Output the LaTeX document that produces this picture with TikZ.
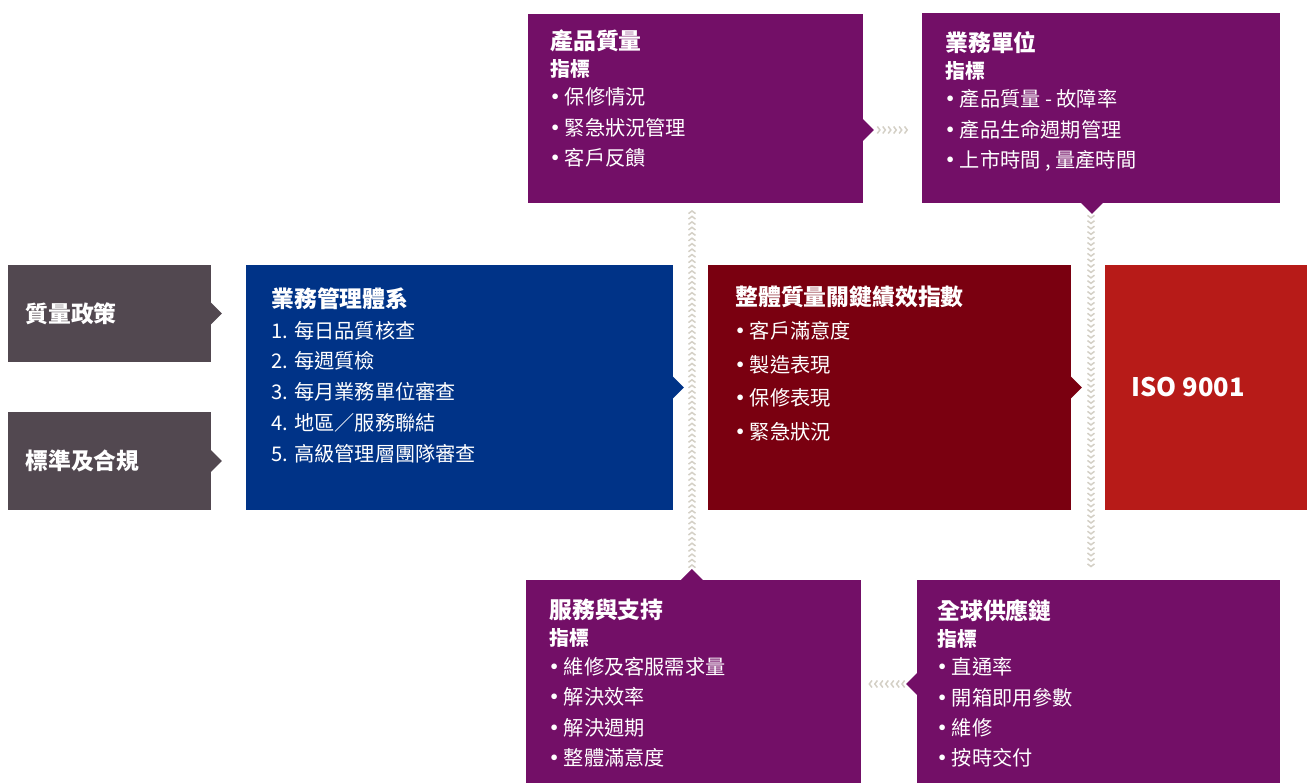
\documentclass[tikz,border=0pt]{standalone}
\usepackage{fontspec}
\newfontfamily\cjk{Noto Sans CJK TC}
\usepackage{tikz}
\usetikzlibrary{
  positioning, % for relative node positioning
  calc, % for position calculations
  decorations.markings, % for the chevron connectors
}
\definecolor{qm-grey}{RGB}{82, 72, 80}
\definecolor{qm-blue}{RGB}{0, 51, 135}
\definecolor{qm-darkred}{RGB}{122, 0, 16}
\definecolor{qm-red}{RGB}{183, 27, 24}
\definecolor{qm-purple}{RGB}{115, 15, 103}
\definecolor{qm-chevron}{RGB}{212, 208, 198}
\newcommand{\boxtitle}[1]{{\fontsize{13}{17}\selectfont\bfseries #1}}
\newcommand{\boxsub}[1]{{\fontsize{11.3}{17}\selectfont\bfseries #1}}
\newcommand{\bul}{\makebox[0.5em]{\bfseries •}\hspace{0.22em}}

\begin{document}
\begin{tikzpicture}[x=0.02cm, y=-0.02cm,
    font=\cjk\fontsize{11.5}{17.3}\selectfont,
    box/.style={anchor=north west, inner sep=0pt, outer sep=0pt},
    boxtext/.style={anchor=north west, align=left, text=white, inner sep=0pt},
    chevrons/.style={%
      decoration={markings,
        mark=between positions 0 and 1 step 3.1pt with
        {\draw[qm-chevron, line width=0.85pt] (-1.5pt,2pt) -- (0,0) -- (-1.5pt,-2pt);}},
      postaction={decorate}},
    ]
    \useasboundingbox (0,0) rectangle (1307,783);

    % boxes
    \node[box, fill=qm-grey, minimum width=4.06cm, minimum height=1.94cm] (qpol) at (8,265) {};
    \node[box, fill=qm-grey, minimum width=4.06cm, minimum height=1.96cm] (std) at (8,412) {};
    \node[box, fill=qm-blue, minimum width=8.54cm, minimum height=4.9cm] (bms) at (246,265) {};
    \node[box, fill=qm-darkred, minimum width=7.26cm, minimum height=4.9cm] (kpi) at (708,265) {};
    \node[box, fill=qm-red, minimum width=4.04cm, minimum height=4.9cm] (iso) at (1105,265) {};
    \node[box, fill=qm-purple, minimum width=6.7cm, minimum height=3.78cm] (prod) at (528,14) {};
    \node[box, fill=qm-purple, minimum width=7.16cm, minimum height=3.8cm] (biz) at (922,13) {};
    \node[box, fill=qm-purple, minimum width=6.7cm, minimum height=4.06cm] (svc) at (526,580) {};
    \node[box, fill=qm-purple, minimum width=7.26cm, minimum height=4.06cm] (scm) at (917,580) {};

    % notches
    \fill[qm-grey] ($(qpol.east)+(-1,-12)$) -- ++(12,12) -- ++(-12,12) -- cycle;
    \fill[qm-grey] ($(std.east)+(-1,-12)$) -- ++(12,12) -- ++(-12,12) -- cycle;
    \fill[qm-blue] ($(bms.east)+(-1,-12)$) -- ++(12,12) -- ++(-12,12) -- cycle;
    \fill[qm-darkred] ($(kpi.east)+(-1,-12)$) -- ++(12,12) -- ++(-12,12) -- cycle;
    \fill[qm-purple] ($(prod.east)+(-1,9.5)$) -- ++(12,12) -- ++(-12,12) -- cycle;
    \fill[qm-purple] ($(biz.south)+(-21,-1)$) -- ++(12,12) -- ++(12,-12) -- cycle;
    \fill[qm-purple] ($(svc.north)+(-13.5,1)$) -- ++(12,-12) -- ++(12,12) -- cycle;
    \fill[qm-purple] ($(scm.west)+(1,-9.5)$) -- ++(-12,12) -- ++(12,12) -- cycle;
    \coordinate (prodtip) at ($(prod.east)+(11,21.5)$);
    \coordinate (biztip) at ($(biz.south)+(-9,11)$);
    \coordinate (svctip) at ($(svc.north)+(-1.5,-11)$);
    \coordinate (scmtip) at ($(scm.west)+(-11,2.5)$);

    % connectors
    \path[chevrons] ($(prodtip)+(6,0)$) -- ($(biz.west |- prodtip)+(-11,0)$);
    \path[chevrons] ($(svctip)+(0,-4)$) -- ($(prod.south -| svctip)+(0,8)$);
    \path[chevrons] ($(biztip)+(-1,4)$) -- ($(scm.north -| biztip)+(-1,-9)$);
    \path[chevrons] ($(scmtip)+(-4,0)$) -- ($(svc.east |- scmtip)+(8,0)$);

    % texts
    \node[boxtext, right=0.34cm of qpol.west, anchor=west] (qpoltext) {\boxtitle{質量政策}};
    \node[boxtext, right=0.34cm of std.west, anchor=west] (stdtext) {\boxtitle{標準及合規}};
    \node[boxtext, below right=0.44cm and 0.5cm of bms.north west, font=\cjk\fontsize{11.5}{17.6}\selectfont] (bmstext)
      {\boxtitle{業務管理體系}\\
       1. 每日品質核查\\
       2. 每週質檢\\
       3. 每月業務單位審查\\
       4. 地區／服務聯結\\
       5. 高級管理層團隊審查};
    \node[boxtext, below right=0.4cm and 0.54cm of kpi.north west, font=\cjk\fontsize{11.5}{19.1}\selectfont] (kpitext)
      {\boxtitle{整體質量關鍵績效指數}\\
       \bul 客戶滿意度\\
       \bul 製造表現\\
       \bul 保修表現\\
       \bul 緊急狀況};
    \node[text=white, font=\cjk\fontsize{14.5}{17}\selectfont\bfseries] (isotext) at ([xshift=-0.36cm]iso.center) {ISO 9001};
    \node[boxtext, below right=0.3cm and 0.44cm of prod.north west] (prodtext)
      {\boxtitle{產品質量}\\[-2pt]
       \boxsub{指標}\\[-1pt]
       \bul 保修情況\\
       \bul 緊急狀況管理\\
       \bul 客戶反饋};
    \node[boxtext, below right=0.36cm and 0.46cm of biz.north west] (biztext)
      {\boxtitle{業務單位}\\[-2pt]
       \boxsub{指標}\\[-1pt]
       \bul 產品質量 - 故障率\\
       \bul 產品生命週期管理\\
       \bul 上市時間 , 量產時間};
    \node[boxtext, below right=0.38cm and 0.46cm of svc.north west] (svctext)
      {\boxtitle{服務與支持}\\[-2pt]
       \boxsub{指標}\\[-1pt]
       \bul 維修及客服需求量\\
       \bul 解決效率\\
       \bul 解決週期\\
       \bul 整體滿意度};
    \node[boxtext, below right=0.38cm and 0.4cm of scm.north west] (scmtext)
      {\boxtitle{全球供應鏈}\\[-2pt]
       \boxsub{指標}\\[-1pt]
       \bul 直通率\\
       \bul 開箱即用參數\\
       \bul 維修\\
       \bul 按時交付};
  \end{tikzpicture}
\end{document}
